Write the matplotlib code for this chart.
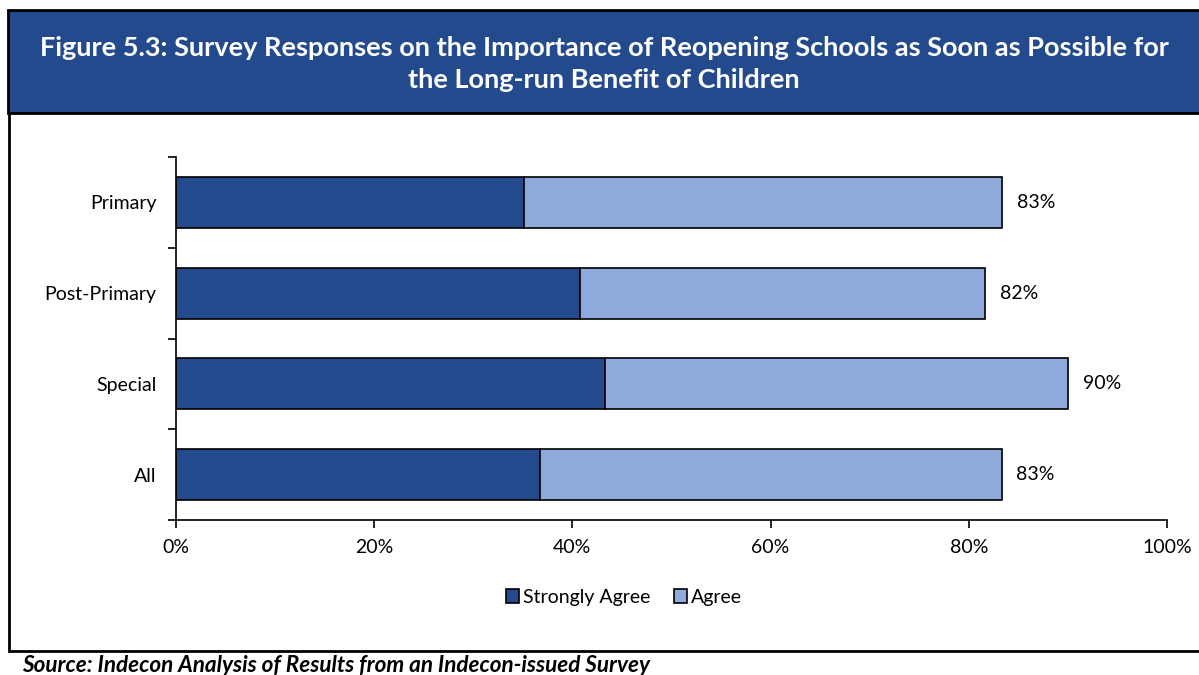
import matplotlib.pyplot as plt
from matplotlib.patches import Rectangle
from matplotlib.ticker import FixedLocator

plt.rcParams['font.family'] = ['Lato', 'DejaVu Sans']

categories = ['Primary', 'Post-Primary', 'Special', 'All']
strongly_agree = [35.1, 40.8, 43.3, 36.7]
agree = [48.3, 40.8, 46.7, 46.6]
series_names = ['Strongly Agree', 'Agree']
xticks = [0, 20, 40, 60, 80, 100]

dark_blue = '#244A8E'
light_blue = '#8FAADC'

fig = plt.figure(figsize=(11.99, 6.75), dpi=100)

# header band and frame
fig.patches.append(Rectangle((8 / 1199, 1 - 113 / 675), 1.0, 103 / 675,
                             transform=fig.transFigure, facecolor=dark_blue,
                             edgecolor='black', linewidth=2, zorder=-2))
fig.patches.append(Rectangle((9 / 1199, 1 - 651 / 675), 1.0, 538 / 675,
                             transform=fig.transFigure, facecolor='white',
                             edgecolor='black', linewidth=2, zorder=-2))

fig.text(0.504, 1 - 64 / 675,
         'Figure 5.3: Survey Responses on the Importance of Reopening Schools as Soon as Possible for\n'
         'the Long-run Benefit of Children',
         ha='center', va='center', color='white', fontsize=19.5, fontweight='bold',
         linespacing=1.38)

ax = fig.add_axes([176 / 1199, 1 - 520 / 675, 991 / 1199, 363 / 675])
ax.set_zorder(2)
ax.patch.set_alpha(0)
ypos = list(range(len(categories)))[::-1]
ax.barh(ypos, strongly_agree, height=0.56, color=dark_blue, edgecolor='black',
        linewidth=1.2, label=series_names[0])
ax.barh(ypos, agree, left=strongly_agree, height=0.56, color=light_blue,
        edgecolor='black', linewidth=1.2, label=series_names[1])

for y, sa, ag in zip(ypos, strongly_agree, agree):
    total = sa + ag
    ax.text(total + 1.5, y, f'{round(total):.0f}%', va='center', ha='left', fontsize=14)

ax.set_xlim(0, 100)
ax.set_ylim(-0.5, 3.5)
ax.set_xticks(xticks)
ax.set_xticklabels([f'{v}%' for v in xticks])
ax.set_yticks(ypos)
ax.set_yticklabels(categories)
ax.yaxis.set_minor_locator(FixedLocator([-0.5, 0.5, 1.5, 2.5, 3.5]))
ax.tick_params(axis='y', which='major', length=0, pad=14, labelsize=14)
ax.tick_params(axis='y', which='minor', length=6, width=1.2)
ax.tick_params(axis='x', length=6, width=1.2, labelsize=14, pad=8)
for side in ['top', 'right']:
    ax.spines[side].set_visible(False)
for side in ['left', 'bottom']:
    ax.spines[side].set_linewidth(1.2)

fig.legend(loc='center', bbox_to_anchor=(624 / 1199, 1 - 597 / 675), ncol=2, frameon=False,
           fontsize=14, handlelength=0.7, handleheight=0.7, handletextpad=0.2,
           columnspacing=1.2)

fig.text(22 / 1199, 1 - 665 / 675,
         'Source: Indecon Analysis of Results from an Indecon-issued Survey',
         ha='left', va='center', fontsize=16.2, fontweight='bold', style='italic')

fig.savefig('out.png', dpi=100)
